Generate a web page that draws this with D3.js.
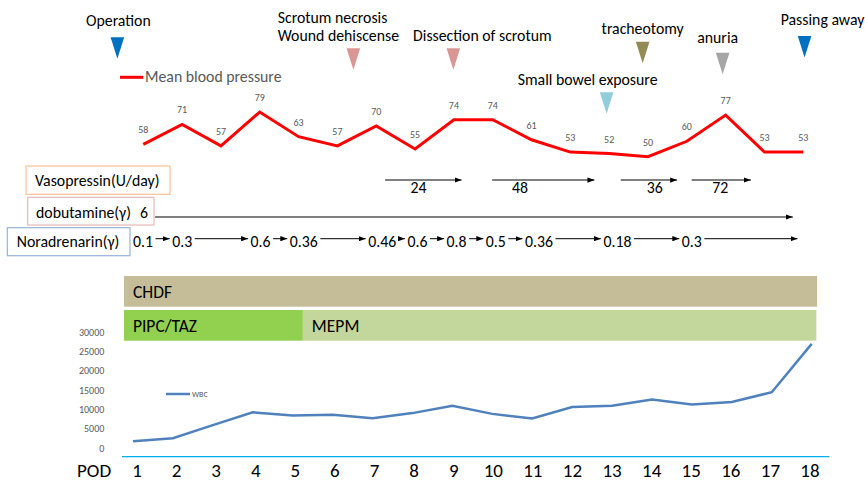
<!DOCTYPE html>
<html><head><meta charset="utf-8">
<script src="https://cdn.jsdelivr.net/npm/d3@7"></script>
<style>
body{margin:0;background:#fff;}
svg{display:block;font-family:Carlito,Calibri,Lato,"Noto Sans",sans-serif;}
</style></head><body>
<svg id="chart" width="865" height="482"></svg>
<script>
// ---------- DATA ----------
const podDays = [1,2,3,4,5,6,7,8,9,10,11,12,13,14,15,16,17,18];
const bloodPressure = [58,71,57,79,63,57,70,55,74,74,61,53,52,50,60,77,53,53];
const wbc = [1800,2600,6000,9300,8500,8700,7800,9100,11000,8900,7700,10700,11000,12600,11300,12000,14500,27000];
const wbcTicks = [0,5000,10000,15000,20000,25000,30000];
const eventNames = [["Operation"],["Scrotum necrosis","Wound dehiscense"],["Dissection of scrotum"],["Small bowel exposure"],["tracheotomy"],["anuria"],["Passing away"]];
const eventDays = [0.5,6.52,9.07,12.98,13.9,15.94,18.03];
const noradDays = [1,2,4,5,7,8,9,10,11,13,15];
const noradDoses = ["0.1","0.3","0.6","0.36","0.46","0.6","0.8","0.5","0.36","0.18","0.3"];
const noradEndDay = 17.85;
const dobutDose = ["6"];
const dobutStartDay = 1.46, dobutEndDay = 17.73;
const vasoDoses = ["24","48","36","72"];
const vasoStart = [7.33,10.06,13.34,15.15];
const vasoEnd = [9.28,12.67,14.78,16.66];
const vasoLabelDay = [8.18,10.77,14.21,15.88];
const treatNames = ["CHDF","PIPC/TAZ","MEPM"];
const treatStart = [0.67,0.67,5.19];
const treatEnd = [18.18,5.19,18.16];
const drugNames = ["Vasopressin(U/day)","dobutamine(γ)","Noradrenarin(γ)"];

// ---------- LAYOUT / STYLE ----------
const evColors = ["#0070C0","#D99694","#D99694","#92CDDC","#948A54","#A6A6A6","#0070C0"];
const evTriTop = [37.3,48.3,48.3,92.3,41.7,52.7,36];
const evLabelDx = [1,-15,29,-19,0,-5,18];
const evLabelBase = [26,41.3,41.3,85,34,43.3,25];
const treatColors = ["#C4BD97","#92D050","#C3D69B"];
const treatRow = [0,1,1];
const drugBoxes = [
  {x:26,y:166,w:144,h:28.3,stroke:"#FAC08F",tx:35,ty:185.7},
  {x:27.7,y:197.3,w:126.3,h:27.7,stroke:"#E6B9B8",tx:36,ty:217.7},
  {x:7.3,y:227.7,w:122.7,h:28,stroke:"#95B3D7",tx:16.7,ty:247.3}
];
const FS = 15.8;

const svg = d3.select("#chart");
const defs = svg.append("defs");
defs.append("marker").attr("id","arr").attr("viewBox","0 0 8 6")
  .attr("refX",8).attr("refY",3).attr("markerWidth",7).attr("markerHeight",5.5)
  .attr("markerUnits","userSpaceOnUse").attr("orient","auto")
  .append("path").attr("d","M0,0L8,3L0,6Z").attr("fill","#000");

// scales
const podX = d3.scaleLinear().domain([1,18]).range([137,810]);
const wbcX = d3.scaleLinear().domain([1,18]).range([133,811.7]);
const wbcY = d3.scaleLinear().domain([0,30000]).range([448.3,332.3]);
const bpX = d3.scaleLinear().domain([1,18]).range([143.3,803.3]);
const bpY = d3.scaleLinear().domain([50,79]).range([156.7,112]);
const annX = d3.scaleLinear().domain([1,18]).range([137,803.4]);

// ---------- events ----------
const ev = svg.append("g");
eventNames.forEach((lines,i)=>{
  const cx = annX(eventDays[i]);
  const top = evTriTop[i];
  ev.append("path")
    .attr("d",`M${cx-6.8},${top}L${cx+6.8},${top}L${cx},${top+21.5}Z`)
    .attr("fill",evColors[i]);
  const ts = lines.map((t,j)=> ev.append("text")
      .attr("y",evLabelBase[i]-(lines.length-1-j)*18.6)
      .attr("font-size",FS).attr("fill","#000").text(t));
  const maxW = d3.max(ts, t=>t.node().getComputedTextLength());
  ts.forEach(t=>t.attr("x",cx+evLabelDx[i]-maxW/2));
});

// ---------- blood pressure ----------
const bpG = svg.append("g");
bpG.append("line").attr("x1",120).attr("x2",143.3).attr("y1",77.3).attr("y2",77.3)
  .attr("stroke","#FF0000").attr("stroke-width",3);
bpG.append("text").attr("x",145).attr("y",82.3).attr("font-size",FS).attr("fill","#595959").text("Mean blood pressure");
bpG.append("path").datum(bloodPressure)
  .attr("d",d3.line().x((d,i)=>bpX(podDays[i])).y(d=>bpY(d)))
  .attr("fill","none").attr("stroke","#FF0000").attr("stroke-width",3);
bpG.selectAll("text.v").data(bloodPressure).join("text").attr("class","v")
  .attr("x",(d,i)=>bpX(podDays[i])).attr("y",d=>bpY(d)-11)
  .attr("text-anchor","middle").attr("font-size",10).attr("fill","#595959").text(d=>d);

// ---------- drug boxes ----------
drugBoxes.forEach((b,i)=>{
  svg.append("rect").attr("x",b.x).attr("y",b.y).attr("width",b.w).attr("height",b.h)
    .attr("fill","#fff").attr("stroke",b.stroke).attr("stroke-width",1.2);
  svg.append("text").attr("x",b.tx).attr("y",b.ty).attr("font-size",FS).attr("fill","#000").text(drugNames[i]);
});

// vasopressin
vasoDoses.forEach((v,i)=>{
  svg.append("line").attr("x1",annX(vasoStart[i])).attr("x2",annX(vasoEnd[i]))
    .attr("y1",180).attr("y2",180).attr("stroke","#000").attr("stroke-width",1)
    .attr("marker-end","url(#arr)");
  svg.append("text").attr("x",annX(vasoLabelDay[i])).attr("y",193.3).attr("text-anchor","middle")
    .attr("font-size",FS).attr("fill","#000").text(v);
});

// dobutamine
svg.append("text").attr("x",annX(1)+3).attr("y",217.7).attr("font-size",FS).attr("fill","#000").text(dobutDose[0]);
svg.append("line").attr("x1",annX(dobutStartDay)).attr("x2",annX(dobutEndDay))
  .attr("y1",217).attr("y2",217).attr("stroke","#000").attr("stroke-width",1).attr("marker-end","url(#arr)");

// noradrenaline
const norT = noradDoses.map((v,i)=> svg.append("text").attr("x",annX(noradDays[i])-4).attr("y",247.3)
  .attr("font-size",FS).attr("fill","#000").text(v));
norT.forEach((t,i)=>{
  const x0 = +t.attr("x") + t.node().getComputedTextLength() + 2.5;
  const x1 = i < norT.length-1 ? +norT[i+1].attr("x") - 2.5 : annX(noradEndDay);
  svg.append("line").attr("x1",x0).attr("x2",x1).attr("y1",238.7).attr("y2",238.7)
    .attr("stroke","#000").attr("stroke-width",1).attr("marker-end","url(#arr)");
});

// ---------- treatments ----------
treatNames.forEach((n,i)=>{
  const y = treatRow[i]===0 ? 276 : 310;
  svg.append("rect").attr("x",podX(treatStart[i])).attr("y",y)
    .attr("width",podX(treatEnd[i])-podX(treatStart[i])).attr("height",30.7).attr("fill",treatColors[i]);
  svg.append("text").attr("x",podX(treatStart[i])+9).attr("y",y+21.5)
    .attr("font-size",17.5).attr("fill","#000").text(n);
});

// ---------- WBC ----------
const wG = svg.append("g");
wG.selectAll("text.t").data(wbcTicks).join("text").attr("class","t")
  .attr("x",104.3).attr("y",d=>wbcY(d)).attr("dy","0.35em").attr("text-anchor","end")
  .attr("font-size",10).attr("fill","#595959").text(d=>d);
wG.append("path").datum(wbc)
  .attr("d",d3.line().x((d,i)=>wbcX(podDays[i])).y(d=>wbcY(d)))
  .attr("fill","none").attr("stroke","#4F81BD").attr("stroke-width",2.5);
wG.append("line").attr("x1",166).attr("x2",190).attr("y1",394).attr("y2",394)
  .attr("stroke","#4F81BD").attr("stroke-width",2.5);
wG.append("text").attr("x",192).attr("y",394).attr("dy","0.35em").attr("font-size",8).attr("fill","#595959").text("WBC");

// baseline + POD axis
svg.append("line").attr("x1",122).attr("x2",829.3).attr("y1",456.7).attr("y2",456.7)
  .attr("stroke","#00B0F0").attr("stroke-width",1.2);
svg.append("text").attr("x",77).attr("y",477).attr("font-size",19).attr("fill","#000").text("POD");
svg.selectAll("text.pod").data(podDays).join("text").attr("class","pod")
  .attr("x",d=>podX(d)).attr("y",477).attr("text-anchor","middle")
  .attr("font-size",19).attr("fill","#000").text(d=>d);
</script>
</body></html>
